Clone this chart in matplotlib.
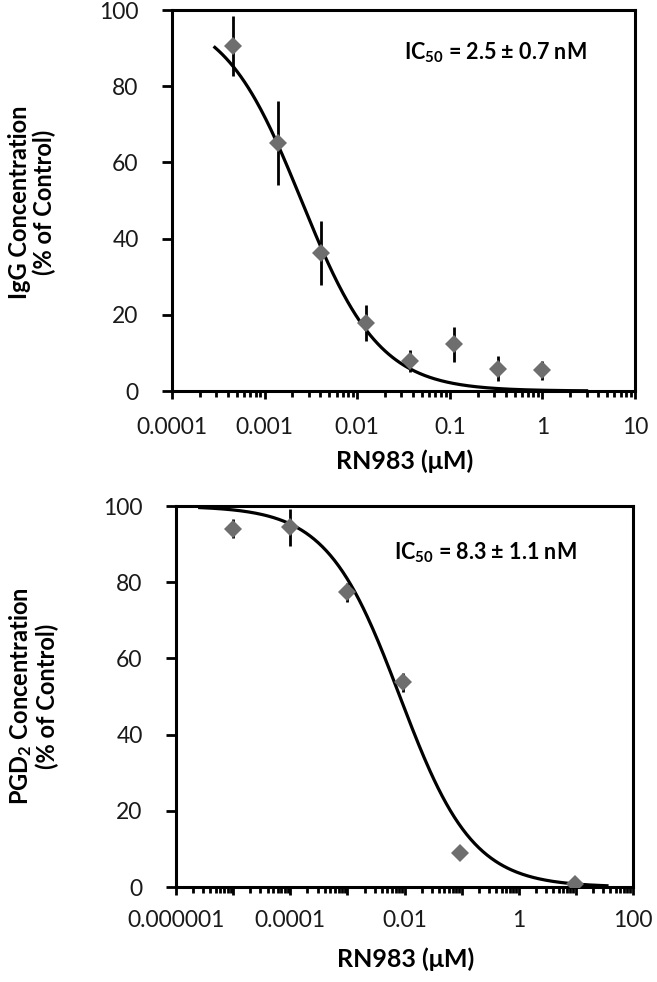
import numpy as np
import matplotlib
matplotlib.use("Agg")
import matplotlib.pyplot as plt
from matplotlib.ticker import LogLocator, NullFormatter

plt.rcParams['font.family'] = ['Lato', 'DejaVu Sans']
plt.rcParams['mathtext.fontset'] = 'custom'
plt.rcParams['mathtext.rm'] = 'Lato'
plt.rcParams['mathtext.bf'] = 'Lato:bold'
plt.rcParams['mathtext.it'] = 'Lato:italic'

# ---- Top panel data (IgG) ----
igg_conc = [0.00046, 0.0014, 0.0041, 0.0123, 0.037, 0.111, 0.333, 1.0]
igg_mean = [90.5, 65.0, 36.2, 17.8, 7.9, 12.3, 5.9, 5.5]
igg_err = [7.8, 11.0, 8.5, 4.7, 2.8, 4.6, 3.2, 2.5]
igg_ic50 = 0.0025
igg_hill = 1.03
igg_top = 100.0
igg_bottom = 0.0
igg_fit_range = (2.9e-4, 3.0)
igg_xticks = [0.0001, 0.001, 0.01, 0.1, 1, 10]
igg_xticklabels = ['0.0001', '0.001', '0.01', '0.1', '1', '10']

# ---- Bottom panel data (PGD2) ----
pgd_conc = [1e-5, 1e-4, 1e-3, 0.0095, 0.093, 9.5]
pgd_mean = [94.1, 94.4, 77.4, 53.8, 9.0, 0.7]
pgd_err = [2.6, 4.8, 2.5, 2.5, 0.6, 0.4]
pgd_ic50 = 0.0083
pgd_hill = 0.68
pgd_top = 100.0
pgd_bottom = 0.0
pgd_fit_range = (2.6e-6, 35.0)
pgd_xticks = [1e-6, 1e-4, 1e-2, 1, 100]
pgd_xticklabels = ['0.000001', '0.0001', '0.01', '1', '100']

yticks = [0, 20, 40, 60, 80, 100]

fig = plt.figure(figsize=(6.57, 9.82), dpi=100)

def logistic(x, top, bottom, ic50, hill):
    return bottom + (top - bottom) / (1.0 + (x / ic50) ** hill)

def panel(ax, conc, mean, err, ic50, hill, top, bottom, frange, xlim,
          xticks, xticklabels, ic_text, txt_pos, lab_y):
    xs = np.logspace(np.log10(frange[0]), np.log10(frange[1]), 300)
    ax.plot(xs, logistic(xs, top, bottom, ic50, hill), color='black', lw=2.3, zorder=2)
    ax.errorbar(conc, mean, yerr=err, fmt='D', color='#6e6e6e', ms=9,
                ecolor='black', elinewidth=2.0, capsize=4.5, capthick=2.0,
                markeredgewidth=0, zorder=3)
    ax.set_xscale('log')
    ax.set_xlim(*xlim)
    ax.set_ylim(0, 100)
    ax.set_yticks(yticks)
    ax.xaxis.set_major_locator(LogLocator(base=10, numticks=20))
    ax.xaxis.set_minor_locator(LogLocator(base=10, subs=np.arange(2, 10), numticks=100))
    ax.xaxis.set_major_formatter(NullFormatter())
    ax.xaxis.set_minor_formatter(NullFormatter())
    for x, lab in zip(xticks, xticklabels):
        ax.text(x, lab_y, lab, transform=ax.get_xaxis_transform(),
                ha='center', va='center', fontsize=16.5, color='#1a1a1a', clip_on=False)
    for s in ax.spines.values():
        s.set_linewidth(2.2)
    ax.tick_params(axis='x', which='major', direction='out', length=6, width=2.0)
    ax.tick_params(axis='x', which='minor', direction='out', length=4, width=2.0)
    ax.tick_params(axis='y', which='major', direction='out', length=7, width=2.0,
                   pad=17, labelsize=16.5, labelcolor='#1a1a1a')
    ax.set_xlabel('RN983 (μM)', fontsize=18, fontweight='bold')
    ax.text(txt_pos[0], txt_pos[1], ic_text, transform=ax.transAxes,
            ha='center', va='center', fontsize=15.5, fontweight='bold')

ax1 = fig.add_axes([0.2618, 0.6018, 0.7047, 0.388])
panel(ax1, igg_conc, igg_mean, igg_err, igg_ic50, igg_hill, igg_top, igg_bottom,
      igg_fit_range, (1e-4, 10), igg_xticks, igg_xticklabels,
      r'IC$_{\mathbf{50}}$ = 2.5 ± 0.7 nM', (0.698, 0.887), -0.095)
ax1.xaxis.set_label_coords(0.503, -0.152)
fig.text(32 / 657, 1 - 202 / 982, 'IgG Concentration\n(% of Control)', rotation=90,
         ha='center', va='center', fontsize=17, fontweight='bold', linespacing=1.1,
         multialignment='center')

ax2 = fig.add_axes([0.2679, 0.0967, 0.6956, 0.388])
panel(ax2, pgd_conc, pgd_mean, pgd_err, pgd_ic50, pgd_hill, pgd_top, pgd_bottom,
      pgd_fit_range, (1e-6, 100), pgd_xticks, pgd_xticklabels,
      r'IC$_{\mathbf{50}}$ = 8.3 ± 1.1 nM', (0.676, 0.877), -0.087)
ax2.xaxis.set_label_coords(0.503, -0.158)
fig.text(33 / 657, 1 - 696 / 982, 'PGD$_{\\mathbf{2}}$ Concentration\n(% of Control)', rotation=90,
         ha='center', va='center', fontsize=17, fontweight='bold', linespacing=1.1,
         multialignment='center')

fig.savefig('out.png', dpi=100)
